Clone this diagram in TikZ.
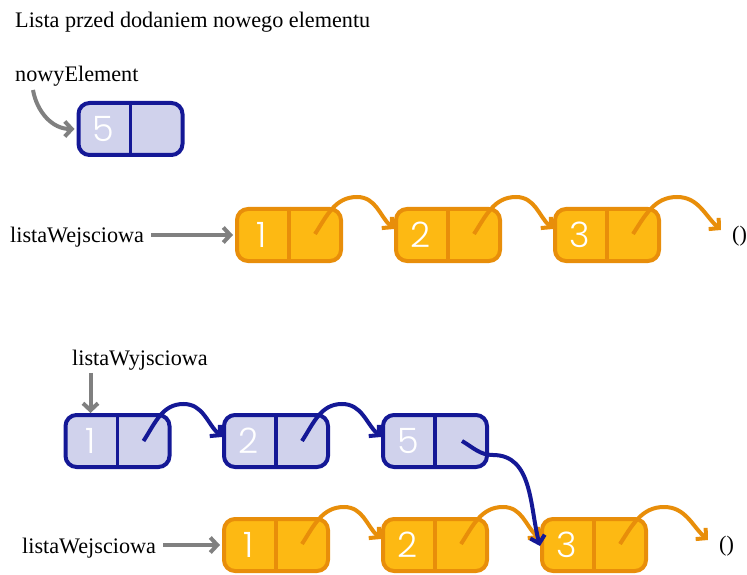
\documentclass[tikz,border=0pt]{standalone}
\usepackage{fontspec}
\setmainfont{Liberation Serif}
\newfontfamily\digitfont{Poppins Light}
\usetikzlibrary{arrows.meta}
\definecolor{orfill}{RGB}{253,185,19}
\definecolor{ordraw}{RGB}{232,142,10}
\definecolor{blfill}{RGB}{208,210,236}
\definecolor{bldraw}{RGB}{20,24,150}
\definecolor{grarrow}{RGB}{128,128,128}
\newcommand\mkcell[5]{%
  \node[#2cell] (#1) at (#3,#4) {};
  \draw[#2div] (#1.north) -- (#1.south);
  \node[digit] (#1d) at ([xshift=-27pt]#1.center) {#5};
}
\begin{document}
\begin{tikzpicture}[x=1pt,y=1pt,
  cell/.style={rectangle, rounded corners=11pt, minimum width=104pt, minimum height=52pt, line width=4pt, inner sep=0pt},
  orcell/.style={cell, draw=ordraw, fill=orfill},
  blcell/.style={cell, draw=bldraw, fill=blfill},
  ordiv/.style={line width=3.5pt, draw=ordraw},
  bldiv/.style={line width=3.5pt, draw=bldraw},
  digit/.style={font=\digitfont\fontsize{35}{35}\selectfont, text=white, inner sep=0pt},
  lbl/.style={font=\fontsize{22.2}{25}\selectfont, inner sep=0pt},
  tip/.style={-{Straight Barb[length=7pt,width=15pt]}, line width=4pt},
  grayarrow/.style={tip, draw=grarrow},
]
\useasboundingbox (0,0) rectangle (747,574);

\node[lbl, anchor=base west] (title) at (15,546) {Lista przed dodaniem nowego elementu};

% new element
\node[lbl, anchor=base west] (now) at (15,492) {nowyElement};
\mkcell{n5}{bl}{130.5}{445}{5}
\draw[grayarrow] ([xshift=18pt,yshift=-3pt]now.south west) to[out=-80,in=180] ([xshift=-2pt]n5.west);

% input list (top)
\node[lbl, anchor=base west] (lw1) at (10,331) {listaWejsciowa};
\mkcell{a1}{or}{289}{339}{1}
\mkcell{a2}{or}{448}{339}{2}
\mkcell{a3}{or}{607}{339}{3}
\node[lbl] (nil1) at (739.5,338) {()};
\draw[grayarrow] (lw1.east |- a1.west) ++(7,0) -- ([xshift=-2pt]a1.west);
\draw[tip, ordraw] ([xshift=26pt,yshift=1pt]a1.center) to[out=57,in=180] ++(42,37) to[out=0,in=138] ([yshift=6pt]a2.west);
\draw[tip, ordraw] ([xshift=26pt,yshift=1pt]a2.center) to[out=57,in=180] ++(42,37) to[out=0,in=138] ([yshift=6pt]a3.west);
\draw[tip, ordraw] ([xshift=26pt,yshift=1pt]a3.center) to[out=57,in=180] ++(44,37) to[out=0,in=138] ([xshift=-11pt,yshift=6pt]nil1.west);

% output list
\node[lbl, anchor=base west] (lwy) at (72,209) {listaWyjsciowa};
\mkcell{b1}{bl}{117.5}{133}{1}
\mkcell{b2}{bl}{276}{133}{2}
\mkcell{b3}{bl}{435}{133}{5}
\draw[grayarrow] (b1d |- lwy.south) ++(0,-3) -- (b1d |- b1.north);

% input list (bottom)
\node[lbl, anchor=base west] (lw2) at (22,21) {listaWejsciowa};
\mkcell{c1}{or}{276}{29}{1}
\mkcell{c2}{or}{435}{29}{2}
\mkcell{c3}{or}{594}{29}{3}
\node[lbl] (nil2) at (726.5,28) {()};
\draw[grayarrow] (lw2.east |- c1.west) ++(7,0) -- ([xshift=-2pt]c1.west);
\draw[tip, ordraw] ([xshift=26pt,yshift=1pt]c1.center) to[out=57,in=180] ++(42,37) to[out=0,in=138] ([yshift=6pt]c2.west);
\draw[tip, ordraw] ([xshift=26pt,yshift=1pt]c2.center) to[out=57,in=180] ++(42,37) to[out=0,in=138] ([yshift=6pt]c3.west);
\draw[tip, ordraw] ([xshift=26pt,yshift=1pt]c3.center) to[out=57,in=180] ++(44,37) to[out=0,in=138] ([xshift=-11pt,yshift=6pt]nil2.west);

% output links
\draw[tip, bldraw] ([xshift=26pt,yshift=0pt]b1.center) to[out=57,in=180] ++(40,37) to[out=0,in=138] ([yshift=4pt]b2.west);
\draw[tip, bldraw] ([xshift=26pt,yshift=0pt]b2.center) to[out=57,in=180] ++(40,37) to[out=0,in=138] ([yshift=4pt]b3.west);
\draw[tip, bldraw] ([xshift=27pt]b3.center) to[out=-30,in=180] ++(31,-14) to[out=0,in=105] ([yshift=-1pt]c3.west);
\end{tikzpicture}
\end{document}
